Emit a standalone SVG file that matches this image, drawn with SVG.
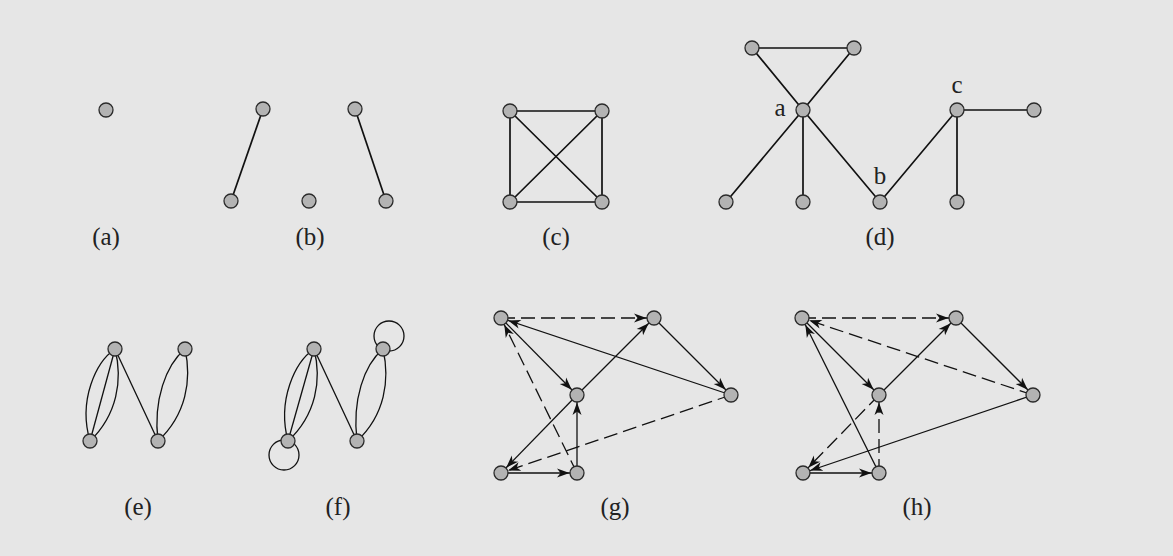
<svg xmlns="http://www.w3.org/2000/svg" width="1173" height="556" viewBox="0 0 1173 556">
<style>
.bg{fill:#e6e6e6}
.n{fill:#b3b3b3;stroke:#2a2a2a;stroke-width:1.3}
.e{fill:none;stroke:#111;stroke-width:1.7}
.d{fill:none;stroke:#111;stroke-width:1.3}
.ds{stroke-dasharray:14 6}
.lbl{font-family:"Liberation Serif","Times New Roman",serif;font-size:25px;fill:#222;text-anchor:middle}
</style>
<defs>
<marker id="ar" markerUnits="userSpaceOnUse" viewBox="-22 -6 22 12" markerWidth="22" markerHeight="12" refX="0" refY="0" orient="auto">
<path d="M-7.5,0 L-20,-4.5 L-16.5,0 L-20,4.5 Z" fill="#111"/>
</marker>
</defs>
<rect class="bg" x="0" y="0" width="1173" height="556"/>
<g id="connectors">
<!-- (b) -->
<path class="e" d="M263,109 L231,201"/>
<path class="e" d="M355,109 L386,201"/>
<!-- (c) -->
<path class="e" d="M510,111 L602,111 L602,202 L510,202 Z M510,111 L602,202 M602,111 L510,202"/>
<!-- (d) -->
<path class="e" d="M752,48 L854,48 M752,48 L803,110 M854,48 L803,110 M803,110 L726,202 M803,110 L803,202 M803,110 L880,202 L957,110 L1034,110 M957,110 L957,202"/>
<!-- (e) -->
<path class="d" d="M115,349 L90,441" stroke-width="2.2"/>
<path class="d" d="M115,349 C96,362 78,400 90,441"/>
<path class="d" d="M115,349 C123,380 117,415 90,441"/>
<path class="d" d="M115,349 L158,441"/>
<path class="d" d="M185,349 C166,365 153,400 158,441"/>
<path class="d" d="M185,349 C192,380 186,415 158,441"/>
<!-- (f) -->
<path class="d" d="M314,349 L288,441" stroke-width="2.2"/>
<path class="d" d="M314,349 C295,362 277,400 288,441"/>
<path class="d" d="M314,349 C322,380 316,415 288,441"/>
<path class="d" d="M314,349 L357,441"/>
<path class="d" d="M383,349 C364,365 352,400 357,441"/>
<path class="d" d="M383,349 C390,380 385,415 357,441"/>
<circle class="d" cx="389" cy="336" r="15"/>
<circle class="d" cx="284" cy="455" r="15"/>
<!-- (g) -->
<path class="d ds" d="M501,318 L654,318" marker-end="url(#ar)"/>
<path class="d" d="M731,395 L501,318" marker-end="url(#ar)"/>
<path class="d" d="M501,318 L577,395" marker-end="url(#ar)"/>
<path class="d" d="M577,395 L654,318" marker-end="url(#ar)"/>
<path class="d" d="M654,318 L731,395" marker-end="url(#ar)"/>
<path class="d" d="M577,395 L501,473" marker-end="url(#ar)"/>
<path class="d ds" d="M731,395 L501,473" marker-end="url(#ar)"/>
<path class="d" d="M501,473 L577,473" marker-end="url(#ar)"/>
<path class="d" d="M577,473 L577,395" marker-end="url(#ar)"/>
<path class="d ds" d="M577,473 L501,318" marker-end="url(#ar)"/>
<!-- (h) -->
<path class="d ds" d="M802,318 L956,318" marker-end="url(#ar)"/>
<path class="d ds" d="M1033,395 L802,318" marker-end="url(#ar)"/>
<path class="d" d="M802,318 L879,395" marker-end="url(#ar)"/>
<path class="d" d="M879,395 L956,318" marker-end="url(#ar)"/>
<path class="d" d="M956,318 L1033,395" marker-end="url(#ar)"/>
<path class="d ds" d="M879,395 L803,473" marker-end="url(#ar)"/>
<path class="d" d="M1033,395 L803,473" marker-end="url(#ar)"/>
<path class="d" d="M803,473 L879,473" marker-end="url(#ar)"/>
<path class="d ds" d="M879,473 L879,395" marker-end="url(#ar)"/>
<path class="d" d="M879,473 L802,318" marker-end="url(#ar)"/>
</g>
<g id="graph-a">
<circle class="n" cx="106" cy="110" r="7"/>
<text class="lbl" x="106" y="245">(a)</text>
</g>
<g id="graph-b">
<circle class="n" cx="263" cy="109" r="7"/>
<circle class="n" cx="231" cy="201" r="7"/>
<circle class="n" cx="309" cy="201" r="7"/>
<circle class="n" cx="355" cy="109" r="7"/>
<circle class="n" cx="386" cy="201" r="7"/>
<text class="lbl" x="310" y="245">(b)</text>
</g>
<g id="graph-c">
<circle class="n" cx="510" cy="111" r="7"/>
<circle class="n" cx="602" cy="111" r="7"/>
<circle class="n" cx="510" cy="202" r="7"/>
<circle class="n" cx="602" cy="202" r="7"/>
<text class="lbl" x="556" y="245">(c)</text>
</g>
<g id="graph-d">
<circle class="n" cx="752" cy="48" r="7"/>
<circle class="n" cx="854" cy="48" r="7"/>
<circle class="n" cx="803" cy="110" r="7"/>
<circle class="n" cx="957" cy="110" r="7"/>
<circle class="n" cx="1034" cy="110" r="7"/>
<circle class="n" cx="726" cy="202" r="7"/>
<circle class="n" cx="803" cy="202" r="7"/>
<circle class="n" cx="880" cy="202" r="7"/>
<circle class="n" cx="957" cy="202" r="7"/>
<text class="lbl" x="780" y="116">a</text>
<text class="lbl" x="880" y="184">b</text>
<text class="lbl" x="957" y="93">c</text>
<text class="lbl" x="880" y="245">(d)</text>
</g>
<g id="graph-e">
<circle class="n" cx="115" cy="349" r="7"/>
<circle class="n" cx="185" cy="349" r="7"/>
<circle class="n" cx="90" cy="441" r="7"/>
<circle class="n" cx="158" cy="441" r="7"/>
<text class="lbl" x="138" y="515">(e)</text>
</g>
<g id="graph-f">
<circle class="n" cx="314" cy="349" r="7"/>
<circle class="n" cx="383" cy="349" r="7"/>
<circle class="n" cx="288" cy="441" r="7"/>
<circle class="n" cx="357" cy="441" r="7"/>
<text class="lbl" x="338" y="515">(f)</text>
</g>
<g id="graph-g">
<circle class="n" cx="501" cy="318" r="7"/>
<circle class="n" cx="654" cy="318" r="7"/>
<circle class="n" cx="577" cy="395" r="7"/>
<circle class="n" cx="731" cy="395" r="7"/>
<circle class="n" cx="501" cy="473" r="7"/>
<circle class="n" cx="577" cy="473" r="7"/>
<text class="lbl" x="615" y="515">(g)</text>
</g>
<g id="graph-h">
<circle class="n" cx="802" cy="318" r="7"/>
<circle class="n" cx="956" cy="318" r="7"/>
<circle class="n" cx="879" cy="395" r="7"/>
<circle class="n" cx="1033" cy="395" r="7"/>
<circle class="n" cx="803" cy="473" r="7"/>
<circle class="n" cx="879" cy="473" r="7"/>
<text class="lbl" x="917" y="515">(h)</text>
</g>
</svg>
